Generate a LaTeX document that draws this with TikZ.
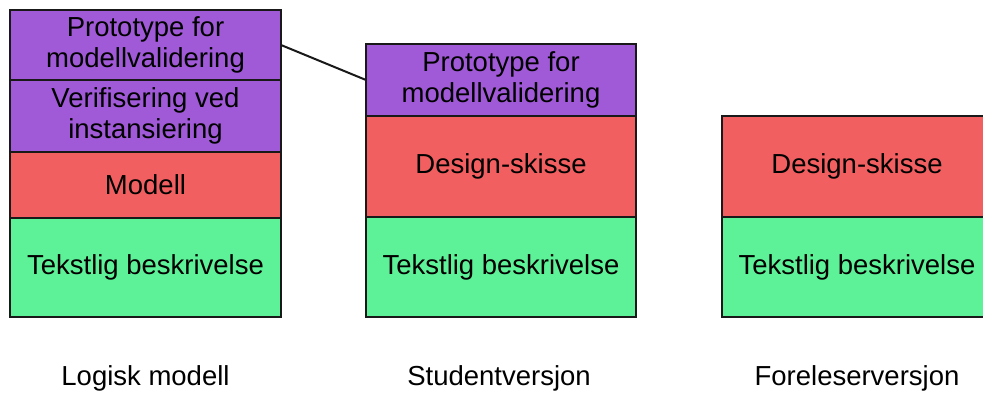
\documentclass[tikz,border=0pt]{standalone}
\usepackage{fontspec}
\setmainfont{Liberation Sans}
\definecolor{purp}{HTML}{A05AD7}
\definecolor{redbox}{HTML}{F25F60}
\definecolor{greenbox}{HTML}{5DF298}
\begin{document}
\begin{tikzpicture}[x=1pt,y=-1pt,
  layer/.style={draw=black!90, line width=2pt, rectangle, inner sep=0pt, outer sep=0pt,
    align=center, font=\fontsize{27.5}{31}\selectfont},
  caption/.style={font=\fontsize{27.5}{31}\selectfont, inner sep=0pt}]
\useasboundingbox (0,0) rectangle (983,394);

% Logisk modell
\node[layer, fill=purp, minimum width=271pt, minimum height=70pt] (L1) at (145.5,45) {Prototype for\\modellvalidering};
\node[layer, fill=purp, minimum width=271pt, minimum height=72pt] (L2) at (145.5,116) {Verifisering ved\\instansiering};
\node[layer, fill=redbox, minimum width=271pt, minimum height=66pt] (L3) at (145.5,185) {Modell};
\node[layer, fill=greenbox, minimum width=271pt, minimum height=99pt] (L4) at (145.5,267.5) {Tekstlig beskrivelse};

% Studentversjon
\node[layer, fill=purp, minimum width=270pt, minimum height=72pt] (M1) at (501,80) {Prototype for\\modellvalidering};
\node[layer, fill=redbox, minimum width=270pt, minimum height=101pt] (M2) at (501,166.5) {Design-skisse};
\node[layer, fill=greenbox, minimum width=270pt, minimum height=100pt] (M3) at (501,267) {Tekstlig beskrivelse};

% Foreleserversjon
\node[layer, fill=redbox, minimum width=270pt, minimum height=101pt] (R1) at (857,166.5) {Design-skisse};
\node[layer, fill=greenbox, minimum width=270pt, minimum height=100pt] (R2) at (857,267) {Tekstlig beskrivelse};

% link between the two prototype layers
\draw[line width=2pt, black!90] (L1.east) -- (M1.west);

% captions
\node[caption] (cL) at (145.5,378) {Logisk modell};
\node[caption] (cM) at (499,378) {Studentversjon};
\node[caption] (cR) at (857,378) {Foreleserversjon};
\end{tikzpicture}
\end{document}
